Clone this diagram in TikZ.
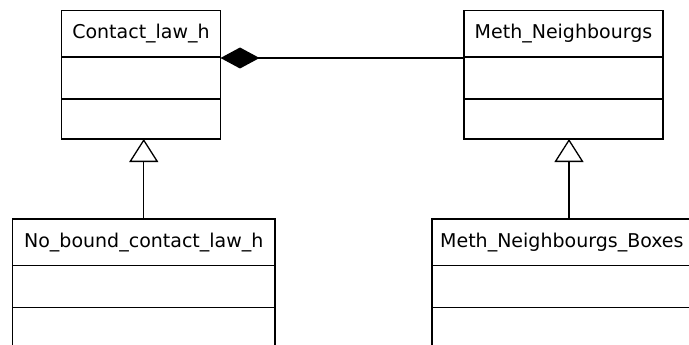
\documentclass[tikz,border=0pt]{standalone}
\usepackage{fontspec}
\setmainfont{DejaVu Sans}
\usetikzlibrary{arrows.meta}
\begin{document}
\begin{tikzpicture}[x=1pt,y=-1pt,
  classbox/.style={draw,line width=1.3pt,fill=white,minimum height=128.5pt,anchor=north west,inner sep=0pt,outer sep=0pt},
  classtitle/.style={anchor=base,inner sep=0pt,font=\fontsize{19}{22}\selectfont},
  classtitleleft/.style={anchor=base west,inner sep=0pt,font=\fontsize{19}{22}\selectfont},
  divider/.style={line width=1.3pt},
  comp/.style={line width=1.3pt,{Diamond[length=39pt,width=21pt]}-},
  gen/.style={line width=1.3pt,{Triangle[open,length=23pt,width=29pt,fill=white]}-}]
\clip (0,0) rectangle (689,345);
\fill[white] (0,0) rectangle (689,345);
% class boxes
\node[classbox,minimum width=159pt] (c1) at (61.5,10.5) {};
\node[classbox,minimum width=199pt] (c2) at (464,10.5) {};
\node[classbox,minimum width=262.5pt] (c3) at (12.5,219) {};
\node[classbox,minimum width=274pt] (c4) at (432,219) {};
% compartments
\foreach \c in {c1,c2,c3,c4}{
  \draw[divider] ([yshift=-46.5pt]\c.north west) -- ([yshift=-46.5pt]\c.north east);
  \draw[divider] ([yshift=-88.5pt]\c.north west) -- ([yshift=-88.5pt]\c.north east);
}
% titles
\node[classtitle] (t1) at ([yshift=-28pt]c1.north) {Contact\_law\_h};
\node[classtitle] (t2) at ([yshift=-28pt]c2.north) {Meth\_Neighbourgs};
\node[classtitle] (t3) at ([yshift=-28pt]c3.north) {No\_bound\_contact\_law\_h};
\node[classtitleleft] (t4) at ([xshift=8pt,yshift=-28pt]c4.north west) {Meth\_Neighbourgs\_Boxes};
% connectors
\draw[comp] ([yshift=-47.5pt]c1.north east) -- ([yshift=-47.5pt]c2.north west);
\draw[gen] (c3.north |- c1.south) -- (c3.north);
\draw[gen] (c4.north |- c2.south) -- (c4.north);
\end{tikzpicture}
\end{document}
